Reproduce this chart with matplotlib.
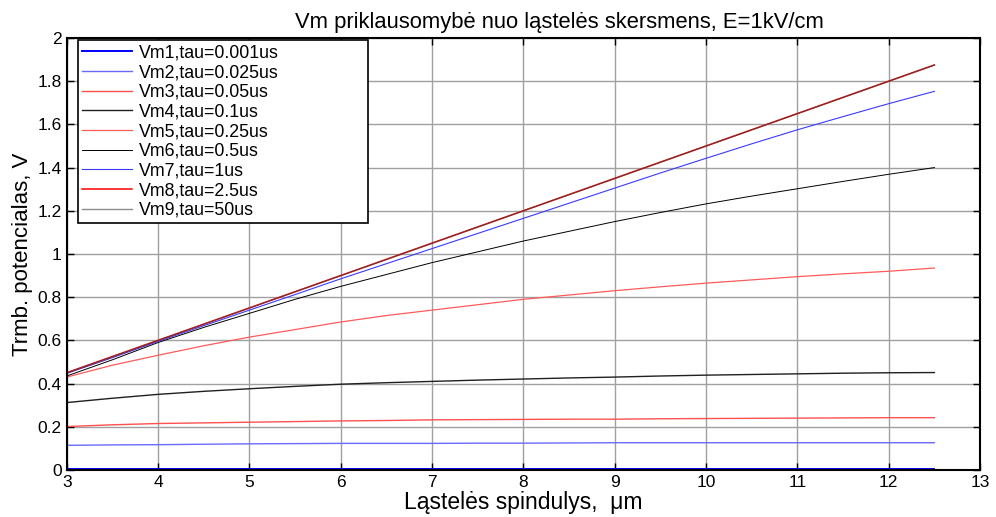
import matplotlib
matplotlib.use("Agg")
import matplotlib.pyplot as plt

plt.rcParams['font.family'] = ['Liberation Sans', 'DejaVu Sans']

r = [3, 3.5, 4, 4.5, 5, 5.5, 6, 6.5, 7, 7.5, 8, 8.5, 9, 9.5, 10, 10.5, 11, 11.5, 12, 12.5]

vm1 = [0.004, 0.004, 0.004, 0.004, 0.004, 0.004, 0.004, 0.004, 0.004, 0.004,
       0.004, 0.004, 0.004, 0.004, 0.004, 0.004, 0.004, 0.004, 0.004, 0.004]
vm2 = [0.114, 0.116, 0.117, 0.119, 0.121, 0.122, 0.123, 0.123, 0.123, 0.124,
       0.124, 0.125, 0.126, 0.126, 0.126, 0.126, 0.126, 0.126, 0.126, 0.126]
vm3 = [0.201, 0.209, 0.215, 0.218, 0.221, 0.224, 0.227, 0.229, 0.232, 0.233,
       0.234, 0.235, 0.235, 0.237, 0.238, 0.239, 0.240, 0.241, 0.242, 0.242]
vm4 = [0.312, 0.332, 0.350, 0.364, 0.376, 0.387, 0.397, 0.404, 0.410, 0.416,
       0.421, 0.426, 0.430, 0.435, 0.439, 0.442, 0.445, 0.448, 0.450, 0.451]
vm5 = [0.430, 0.485, 0.531, 0.575, 0.615, 0.650, 0.685, 0.715, 0.740, 0.765,
       0.790, 0.810, 0.830, 0.848, 0.865, 0.880, 0.895, 0.908, 0.920, 0.935]
vm6 = [0.435, 0.510, 0.590, 0.660, 0.725, 0.790, 0.850, 0.905, 0.960, 1.010,
       1.060, 1.105, 1.150, 1.192, 1.232, 1.268, 1.302, 1.336, 1.369, 1.400]
vm7 = [0.447, 0.520, 0.595, 0.668, 0.740, 0.812, 0.885, 0.955, 1.025, 1.095,
       1.165, 1.235, 1.305, 1.375, 1.443, 1.510, 1.575, 1.636, 1.696, 1.753]
vm8 = [0.450, 0.525, 0.600, 0.675, 0.750, 0.825, 0.900, 0.975, 1.050, 1.125,
       1.200, 1.275, 1.350, 1.425, 1.500, 1.575, 1.650, 1.725, 1.800, 1.875]
vm9 = [0.450, 0.525, 0.600, 0.675, 0.750, 0.825, 0.900, 0.975, 1.050, 1.125,
       1.200, 1.275, 1.350, 1.425, 1.500, 1.575, 1.650, 1.725, 1.800, 1.875]

labels = ['Vm1,tau=0.001us', 'Vm2,tau=0.025us', 'Vm3,tau=0.05us', 'Vm4,tau=0.1us',
          'Vm5,tau=0.25us', 'Vm6,tau=0.5us', 'Vm7,tau=1us', 'Vm8,tau=2.5us', 'Vm9,tau=50us']

xticks = [3, 4, 5, 6, 7, 8, 9, 10, 11, 12, 13]
yticks = [0, 0.2, 0.4, 0.6, 0.8, 1, 1.2, 1.4, 1.6, 1.8, 2]
ytick_labels = ['0', '0.2', '0.4', '0.6', '0.8', '1', '1.2', '1.4', '1.6', '1.8', '2']

fig = plt.figure(figsize=(9.96, 5.17), dpi=100)
ax = fig.add_axes([0.067, 0.091, 0.917, 0.8355])

series = [vm1, vm2, vm3, vm4, vm5, vm6, vm7, vm8, vm9]
styles = [
    dict(color='#0000ff', lw=1.4),
    dict(color='#6a6aff', lw=1.0),
    dict(color='#ff5050', lw=1.0),
    dict(color='#202020', lw=1.0),
    dict(color='#ff5a5a', lw=0.9),
    dict(color='#000000', lw=0.7),
    dict(color='#3a3aff', lw=0.8),
    dict(color='#ff0000', lw=1.1),
    dict(color='#404040', lw=1.0, alpha=0.6),
]
for ys, lab, st in zip(series, labels, styles):
    ax.plot(r, ys, label=lab, **st)

ax.set_xlim(3, 13)
ax.set_ylim(0, 2)
ax.set_xticks(xticks)
ax.set_xticklabels([str(t) for t in xticks])
ax.set_yticks(yticks)
ax.set_yticklabels(ytick_labels)
ax.tick_params(direction='in', top=True, right=True, labelsize=12.5, length=5, width=1)
ax.grid(True, color='#a0a0a0', lw=1.0)
ax.set_axisbelow(True)
for s in ax.spines.values():
    s.set_linewidth(1.5)

ax.set_title('Vm priklausomybė nuo ląstelės skersmens, E=1kV/cm', fontsize=15.8, pad=7, x=0.54)
ax.set_xlabel('Ląstelės spindulys,  μm', fontsize=16.5, labelpad=1)
ax.set_ylabel('Trmb. potencialas, V', fontsize=16, labelpad=3)

leg = ax.legend(loc='upper left', bbox_to_anchor=(0.012, 0.995, 0.318, 0.0),
                mode='expand', fontsize=12.8,
                frameon=True, fancybox=False, edgecolor='black', framealpha=1,
                handlelength=2.8, labelspacing=0.15, borderpad=0.25, handletextpad=0.4,
                borderaxespad=0.0)
leg.get_frame().set_linewidth(1.2)

fig.savefig('out.png', dpi=100)
